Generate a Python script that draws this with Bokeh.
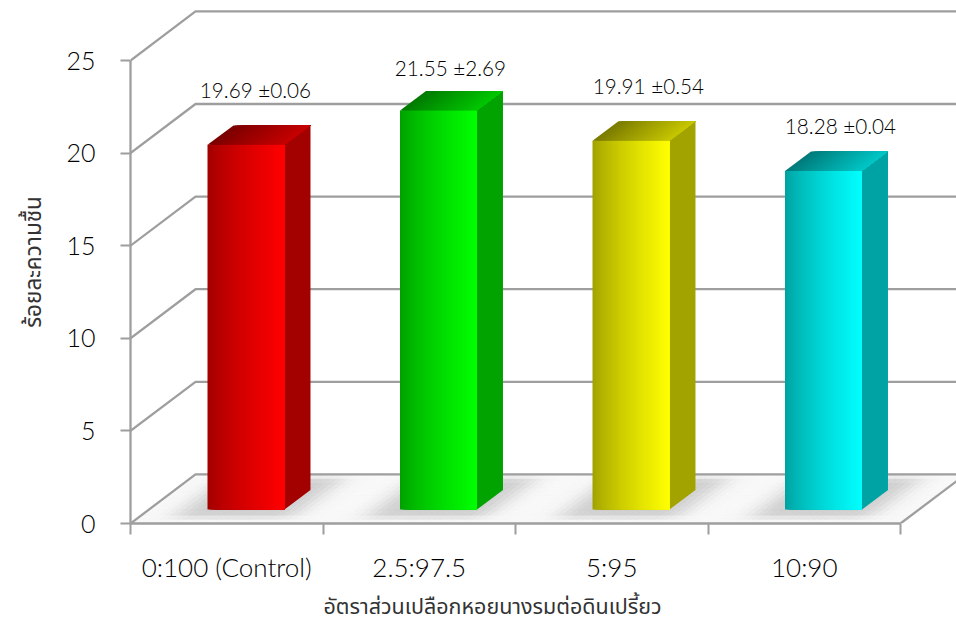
import math
from bokeh.plotting import figure
from bokeh.models import FixedTicker, Range1d, Title
from bokeh.core.properties import value
from bokeh.embed import file_html
from bokeh.resources import INLINE

categories = ["0:100 (Control)", "2.5:97.5", "5:95", "10:90"]
means = [19.69, 21.55, 19.91, 18.28]
errors = [0.06, 2.69, 0.54, 0.04]
base_colors = [(255, 0, 0), (0, 255, 0), (255, 255, 0), (0, 255, 255)]
y_ticks = [0, 5, 10, 15, 20, 25]
label_dx = [0.649, 0.662, 0.690, 0.688]
label_dy = [3.74, 3.02, 3.74, 3.21]
x_title = "อัตราส่วนเปลือกหอยนางรมต่อดินเปรี้ยว"
y_title = "ร้อยละความชื้น"

FONT = "Lato Light, Lato"
THAI = "Noto Sans Thai Light, Noto Sans Thai, Noto Sans, sans-serif"
GRID = "#9e9e9e"
GRID_W = 2.3
TEXT = "#000000"
# wall/floor depth and bar geometry in data units
DX, DY = 0.3377, 2.65
BAR_W = 0.40
BAR_DX, BAR_DY = 0.135, 1.05
BASE_Y = 0.756
X_END, Y_END = (956 - 130) / 192.5, 523 / 18.52
N_CAT = len(categories)


def hexc(c, f):
    return "#%02x%02x%02x" % tuple(int(round(v * f)) for v in c)


def grey(v):
    v = int(round(v))
    return "#%02x%02x%02x" % (v, v, v)


p = figure(width=956, height=628, output_backend="svg", toolbar_location=None,
           x_range=Range1d(0, X_END), y_range=Range1d(0, Y_END),
           min_border_left=130, min_border_right=0, min_border_top=0, min_border_bottom=105)
p.outline_line_color = None
p.grid.visible = False
p.background_fill_color = "white"

# floor with soft shadows below the bars
NU, NV = 130, 12
xs, ys, cols = [], [], []


def smooth(d, s):
    return 0.5 * (1 + math.erf(d / s))


for i in range(NU):
    u0, u1 = N_CAT * i / NU, N_CAT * (i + 1) / NU
    um = (u0 + u1) / 2
    for j in range(NV):
        v0, v1 = j / NV, (j + 1) / NV
        vm = (v0 + v1) / 2
        dark = 0
        for k in range(N_CAT):
            a, b = k + 0.30 - 0.12, k + 0.70 + 0.10
            dark = max(dark, smooth(um - a, 0.09) * smooth(b - um, 0.09))
        dark *= smooth(vm - 0.13, 0.08) * smooth(0.93 - vm, 0.08)
        cols.append(grey(248 - 42 * dark))
        xs.append([u0 + DX * v0, u1 + DX * v0, u1 + DX * v1, u0 + DX * v1])
        ys.append([DY * v0, DY * v0, DY * v1, DY * v1])
p.patches(xs, ys, fill_color=cols, line_color=cols, line_width=0.6)

# walls: gridlines running back and along the rear
for t in y_ticks:
    p.line([0, DX, X_END], [t, t + DY, t + DY], line_color=GRID, line_width=GRID_W)
p.line([N_CAT, N_CAT + DX], [0, DY], line_color=GRID, line_width=GRID_W)

# bars: each strip overlaps everything to its right so no seams show
STRIPS = 38
for k, (m, c) in enumerate(zip(means, base_colors)):
    left = k + 0.40
    right = left + BAR_W
    y0, y1 = BASE_Y, BASE_Y + m
    p.patch([right, right + BAR_DX, right + BAR_DX, right],
            [y0, y0 + BAR_DY, y1 + BAR_DY, y1], fill_color=hexc(c, 0.64), line_color=None)
    for s in range(STRIPS):
        t0 = s / STRIPS
        tm = (s + 0.5) / STRIPS
        a = left + BAR_W * t0
        p.quad(left=[a], right=[right], bottom=[y0], top=[y1],
               fill_color=hexc(c, 0.62 + 0.38 * tm ** 0.75), line_color=None)
        p.patch([a, right, right + BAR_DX, a + BAR_DX], [y1, y1, y1 + BAR_DY, y1 + BAR_DY],
                fill_color=hexc(c, 0.48 + 0.30 * tm), line_color=None)

# value labels
lab_x = [k + d for k, d in enumerate(label_dx)]
lab_y = [m + d for m, d in zip(means, label_dy)]
lab_t = [f"{m:.2f} \u00b1{e:.2f}" for m, e in zip(means, errors)]
p.text(lab_x, lab_y, text=lab_t, text_font=value(FONT), text_font_size="20.7px", text_color=TEXT,
       text_align="center", text_baseline="middle")

# axes
ya = p.yaxis[0]
ya.ticker = FixedTicker(ticks=y_ticks)
ya.bounds = (0, 25)
ya.axis_line_color = GRID
ya.axis_line_width = GRID_W
ya.major_tick_line_color = GRID
ya.major_tick_line_width = 2
ya.major_tick_in = 0
ya.major_tick_out = 10
ya.minor_tick_line_color = None
ya.major_label_text_font = FONT
ya.major_label_text_font_size = "25px"
ya.major_label_text_color = TEXT
ya.major_label_standoff = 25

xa = p.xaxis[0]
centers = [k + 0.5 for k in range(N_CAT)]
xa.ticker = FixedTicker(ticks=centers, minor_ticks=list(range(N_CAT + 1)))
xa.major_label_overrides = {c: n for c, n in zip(centers, categories)}
xa.bounds = (0, N_CAT)
xa.axis_line_color = GRID
xa.axis_line_width = GRID_W
xa.major_tick_line_color = None
xa.major_tick_in = 0
xa.major_tick_out = 10
xa.minor_tick_line_color = GRID
xa.minor_tick_line_width = 2
xa.minor_tick_in = 0
xa.minor_tick_out = 11
xa.major_label_text_font = FONT
xa.major_label_text_font_size = "26px"
xa.major_label_text_color = TEXT
xa.major_label_standoff = 16

# axis titles as layout titles, so they can sit off-centre like the reference
p.add_layout(Title(text=x_title, align="left", offset=193, standoff=7, text_line_height=0.7, text_font=THAI,
                   text_font_size="21.5px", text_font_style="normal", text_color="#333333"), "below")
p.add_layout(Title(text=y_title, align="center", offset=-6, standoff=26, text_font=THAI,
                   text_font_size="22.5px", text_font_style="normal", text_color="#333333"), "left")

open("out.html", "w").write(file_html(p, INLINE))
